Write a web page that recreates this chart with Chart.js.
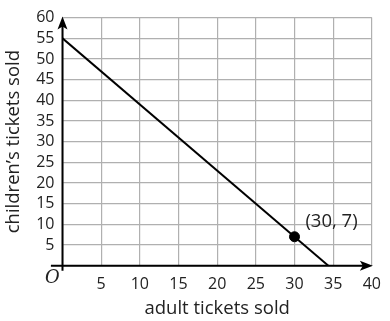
<!DOCTYPE html>
<html>
<head>
<meta charset="utf-8">
<script src="https://cdn.jsdelivr.net/npm/chart.js@4"></script>
<style>
body { margin: 0; background: #fff; }
</style>
</head>
<body>
<canvas id="grafico" width="390" height="321"></canvas>
<script>
// dati del grafico
var lineaX = [0, 34.375];
var lineaY = [55, 0];
var puntoX = [30];
var puntoY = [7];
var etichettaPunto = "(30, 7)";
var tickX = [5, 10, 15, 20, 25, 30, 35, 40];
var tickY = [5, 10, 15, 20, 25, 30, 35, 40, 45, 50, 55, 60];
var titoloX = "adult tickets sold";
var titoloY = "children\u2019s tickets sold";

var font = "'Open Sans', sans-serif";

var datiLinea = [];
for (let i = 0; i < lineaX.length; i++) {
    datiLinea.push({ x: lineaX[i], y: lineaY[i] });
}
var datiPunto = [];
for (let i = 0; i < puntoX.length; i++) {
    datiPunto.push({ x: puntoX[i], y: puntoY[i] });
}

// assi neri con le frecce, la O dell'origine e l'etichetta del punto
var assi = {
    id: "assi",
    beforeDatasetsDraw: function (chart) {
        var ctx = chart.ctx;
        var sx = chart.scales.x, sy = chart.scales.y;
        var x0 = sx.getPixelForValue(0), y0 = sy.getPixelForValue(0);
        var xEnd = sx.getPixelForValue(40) + 1, yEnd = sy.getPixelForValue(60) - 1;
        ctx.save();
        ctx.strokeStyle = "#000";
        ctx.fillStyle = "#000";
        ctx.lineWidth = 2;
        ctx.beginPath();
        ctx.moveTo(sx.getPixelForValue(-1.5), y0);
        ctx.lineTo(xEnd - 8, y0);
        ctx.moveTo(x0, sy.getPixelForValue(-1.2));
        ctx.lineTo(x0, yEnd + 8);
        ctx.stroke();
        // frecce
        ctx.beginPath();
        ctx.moveTo(xEnd, y0);
        ctx.lineTo(xEnd - 13, y0 - 5);
        ctx.lineTo(xEnd - 10, y0);
        ctx.lineTo(xEnd - 13, y0 + 5);
        ctx.closePath();
        ctx.fill();
        ctx.beginPath();
        ctx.moveTo(x0, yEnd);
        ctx.lineTo(x0 - 5, yEnd + 13);
        ctx.lineTo(x0, yEnd + 10);
        ctx.lineTo(x0 + 5, yEnd + 13);
        ctx.closePath();
        ctx.fill();
        ctx.restore();
    },
    afterDraw: function (chart) {
        var ctx = chart.ctx;
        var sx = chart.scales.x, sy = chart.scales.y;
        ctx.save();
        ctx.fillStyle = "#222";
        ctx.textAlign = "center";
        ctx.textBaseline = "middle";
        ctx.font = "italic 18px 'DejaVu Serif', serif";
        ctx.fillText("O", sx.getPixelForValue(0) - 10, sy.getPixelForValue(0) + 13);
        ctx.font = "18.5px " + font;
        ctx.fillText(etichettaPunto, sx.getPixelForValue(puntoX[0]) + 37, sy.getPixelForValue(puntoY[0]) - 15);
        ctx.restore();
    }
};

var grafico = document.getElementById("grafico").getContext("2d");
var chart = new Chart(grafico, {
    type: "scatter",
    data: {
        datasets: [{
            data: datiLinea,
            showLine: true,
            borderColor: "#000",
            borderWidth: 2,
            pointRadius: 0
        }, {
            data: datiPunto,
            backgroundColor: "#000",
            borderColor: "#000",
            pointRadius: 5
        }]
    },
    options: {
        responsive: false,
        animation: false,
        layout: { padding: { top: 11, right: 13.5, left: 0, bottom: 0 } },
        plugins: { legend: { display: false }, tooltip: { enabled: false } },
        scales: {
            x: {
                type: "linear",
                min: 0,
                max: 40,
                afterFit: function (s) { s.height = 55.3; },
                afterBuildTicks: function (s) {
                    s.ticks = [{ value: 0 }].concat(tickX.map(function (v) { return { value: v }; }));
                },
                border: { display: false },
                grid: { color: "#b0b0b0", lineWidth: 1.2, drawTicks: false },
                ticks: {
                    padding: 9,
                    autoSkip: false,
                    color: "#222",
                    font: { family: font, size: 16 },
                    maxRotation: 0,
                    callback: function (v) { return v === 0 ? "" : v; }
                },
                title: {
                    display: true,
                    text: titoloX,
                    color: "#222",
                    font: { family: font, size: 18.5 },
                    padding: { top: 0, bottom: 1 }
                }
            },
            y: {
                type: "linear",
                min: 0,
                max: 60,
                afterFit: function (s) { s.width = 62.5; },
                afterBuildTicks: function (s) {
                    s.ticks = [{ value: 0 }].concat(tickY.map(function (v) { return { value: v }; }));
                },
                border: { display: false },
                grid: { color: "#b0b0b0", lineWidth: 1.2, drawTicks: false },
                ticks: {
                    padding: 8,
                    autoSkip: false,
                    color: "#222",
                    font: { family: font, size: 16 },
                    callback: function (v) { return v === 0 ? "" : v; }
                },
                title: {
                    display: true,
                    text: titoloY,
                    color: "#222",
                    font: { family: font, size: 18.5 },
                    padding: { top: 3, bottom: 0 }
                }
            }
        }
    },
    plugins: [assi]
});
</script>
</body>
</html>
